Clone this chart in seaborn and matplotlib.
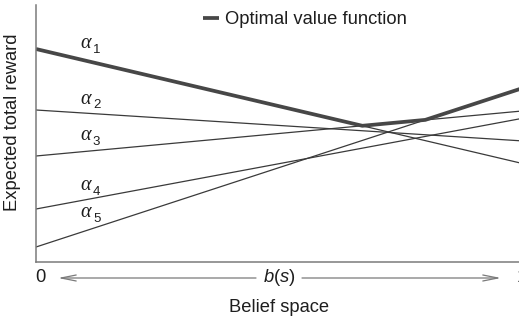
import numpy as np
import pandas as pd
import matplotlib
matplotlib.use("Agg")
import matplotlib.pyplot as plt
from matplotlib.lines import Line2D
import seaborn as sns

# Alpha vectors: expected total reward at the two ends of the belief simplex
alpha_subscripts = ["1", "2", "3", "4", "5"]
value_at_b0 = [21.3, 15.2, 10.6, 5.3, 1.5]
value_at_b1 = [9.86, 12.11, 15.10, 14.36, 17.37]
label_y = [21.8, 16.3, 12.6, 7.6, 4.95]
x_ticks = [0, 1]
x_ticklabels = ["0", "1"]

sns.set_theme(style="white")
plt.rcParams["font.family"] = ["Liberation Sans", "DejaVu Sans"]
plt.rcParams["mathtext.fontset"] = "custom"
plt.rcParams["mathtext.rm"] = "Liberation Sans"
plt.rcParams["mathtext.it"] = "Liberation Sans:italic"

line_col = "#3a3a3a"
env_col = "#474747"
axis_col = "#7a7a7a"
text_col = "#1e1e1e"
fs = 13.2

rows = []
for sub, v0, v1 in zip(alpha_subscripts, value_at_b0, value_at_b1):
    rows.append({"vector": sub, "b": 0.0, "value": v0})
    rows.append({"vector": sub, "b": 1.0, "value": v1})
df = pd.DataFrame(rows)

# Upper envelope of the alpha vectors = optimal value function
b_grid = np.linspace(0, 1, 2001)
vals = np.array([v0 + (v1 - v0) * b_grid for v0, v1 in zip(value_at_b0, value_at_b1)])
env = pd.DataFrame({"b": b_grid, "value": vals.max(axis=0)})

W, H = 519, 321
fig = plt.figure(figsize=(W / 100, H / 100), dpi=100)
ax = fig.add_axes([36 / W, 59 / H, 486 / W, 257 / H])

sns.lineplot(data=df, x="b", y="value", hue="vector",
             palette=[line_col] * len(alpha_subscripts), linewidth=0.9,
             legend=False, ax=ax)
sns.lineplot(data=env, x="b", y="value", color=env_col, linewidth=2.7,
             solid_capstyle="butt", legend=False, ax=ax)

ax.set_xlim(0, 1)
ax.set_ylim(0, 25.7)
ax.set_xticks([])
ax.set_yticks([])
ax.set_xlabel("")
ax.set_ylabel("")
for side in ["top", "right"]:
    ax.spines[side].set_visible(False)
for side in ["left", "bottom"]:
    ax.spines[side].set_color(axis_col)
    ax.spines[side].set_linewidth(1.1)

# Alpha-vector labels: serif italic alpha with a sans subscript
for sub, ly in zip(alpha_subscripts, label_y):
    ax.text(0.103, ly, "\u03b1", ha="center", va="center", fontsize=14.5,
            family="Liberation Serif", style="italic", color=text_col)
    ax.annotate(sub, xy=(0.103, ly), xycoords="data",
                xytext=(7.6, -4.6), textcoords="offset points",
                ha="center", va="center", fontsize=9.5, color=text_col)

# Belief-space axis annotation
for xt, lab, dx in zip(x_ticks, x_ticklabels, [3.5, 0]):
    ax.annotate(lab, xy=(xt, 0), xycoords=("data", "axes fraction"),
                xytext=(dx, -11.5), textcoords="offset points",
                ha="center", va="center", fontsize=fs, color=text_col,
                annotation_clip=False)
arrow = dict(arrowstyle="->,head_length=0.9,head_width=0.18",
             color=axis_col, lw=0.9, shrinkA=0, shrinkB=0)
ay = 1 - 278 / H
ax.annotate("", xy=(58 / W, ay), xytext=(256 / W, ay),
            xycoords=fig.transFigure, textcoords=fig.transFigure,
            arrowprops=arrow, annotation_clip=False)
ax.annotate("", xy=(501 / W, ay), xytext=(302 / W, ay),
            xycoords=fig.transFigure, textcoords=fig.transFigure,
            arrowprops=arrow, annotation_clip=False)
fig.text(279 / W, ay, r"$b(s)$", ha="center", va="center",
         fontsize=fs, color=text_col)
fig.text(279 / W, 1 - 308 / H, "Belief space", ha="center", va="center",
         fontsize=fs, color=text_col)
fig.text(13 / W, 1 - 122 / H, "Expected total reward", rotation=90,
         ha="center", va="center", fontsize=fs, color=text_col)

handle = Line2D([0], [0], color=env_col, linewidth=2.7, solid_capstyle="butt")
ax.legend([handle], ["Optimal value function"], loc="center left",
          bbox_to_anchor=(203 / W, 1 - 20 / H), bbox_transform=fig.transFigure,
          frameon=False, fontsize=fs, handlelength=0.85, handletextpad=0.35,
          borderpad=0, borderaxespad=0, labelcolor=text_col)

fig.savefig("out.png", dpi=100)
